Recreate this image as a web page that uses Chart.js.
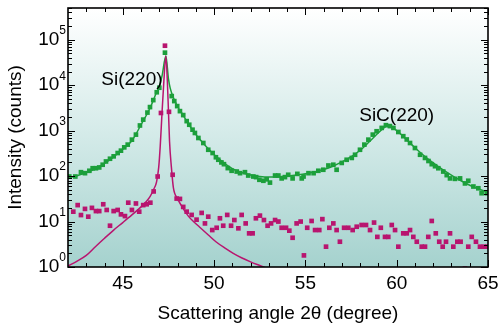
<!DOCTYPE html>
<html>
<head>
<meta charset="utf-8">
<script src="https://cdn.jsdelivr.net/npm/chart.js@4/dist/chart.umd.min.js"></script>
<style>
  html, body { margin: 0; padding: 0; background: #fff; }
  #xrd { display: block; }
</style>
</head>
<body>
<canvas id="xrd" width="502" height="331"></canvas>
<script>
// measured data, green (sample with SiC layer)
const greenAngle = [42.07, 42.40, 42.71, 42.93, 43.17, 43.35, 43.53, 43.71, 43.90, 44.08, 44.30, 44.50, 44.72, 44.90, 45.08, 45.27, 45.50, 45.72, 45.94, 46.12, 46.35, 46.49, 46.67, 46.86, 47.00, 47.31,
  47.68, 47.82, 47.98, 48.13, 48.31, 48.50, 48.64, 48.82, 48.95, 49.14, 49.41, 49.68, 49.92, 50.10, 50.23, 50.40, 50.54, 50.75, 50.96, 51.24, 51.42, 51.69, 51.87, 52.15, 52.30, 52.48, 52.70, 52.88, 53.06,
  53.34, 53.52, 53.70, 53.88, 54.06, 54.30, 54.56, 54.80, 54.90, 55.17, 55.45, 55.71, 55.98, 56.26, 56.53, 56.71, 56.99, 57.26, 57.54, 57.72, 57.99, 58.23, 58.45, 58.69, 58.90, 59.18, 59.41, 59.63,
  59.82, 60.09, 60.36, 60.55, 60.73, 61.00, 61.28, 61.55, 61.74, 61.92, 62.10, 62.28, 62.55, 62.74, 62.92, 63.19, 63.47, 63.74, 63.92, 64.20, 64.47, 64.65, 64.93];
const greenCounts = [98, 98, 122, 116, 131, 149, 149, 155, 178, 210, 241, 272, 322, 363, 429, 493, 634, 818, 1300, 1750, 2500, 3300, 4700, 7000, 8800, 52000,
  5760, 4470, 3470, 2690, 2200, 1620, 1350, 1050, 890, 690, 535, 380, 322, 260, 229, 200, 183, 150, 131, 126, 116, 122, 103, 98, 95, 83, 79, 85, 72,
  103, 103, 89, 95, 107, 89, 112, 89, 98, 116, 116, 131, 138, 171, 178, 138, 195, 229, 251, 295, 380, 493, 634, 818, 970, 1150, 1320, 1260,
  1150, 935, 755, 640, 535, 415, 295, 251, 215, 183, 165, 149, 126, 105, 89, 87, 89, 69, 79, 59, 54, 42, 42];

// fitted curve, green
const greenFitAngle = [42, 42.5, 43, 43.5, 44, 44.5, 45, 45.5, 46, 46.5, 46.85, 47.0, 47.15, 47.36, 47.5, 47.6, 47.8, 48.0, 48.3, 48.6, 49.0, 49.5, 50, 50.5, 51, 51.5, 52, 52.5, 53, 53.5,
  54, 54.5, 55, 55.5, 56, 56.5, 57, 57.5, 58, 58.5, 59, 59.3, 59.5, 59.7, 60, 60.5, 61, 61.5, 62, 62.5, 63, 63.5, 64, 64.5, 65];
const greenFitCounts = [90, 102, 120, 145, 190, 265, 390, 600, 1350, 3200, 7000, 9500, 16000, 44000, 14000, 8500, 5000, 3400, 2200, 1400, 820, 480, 300, 200, 145, 120, 106, 98, 95, 96,
  100, 106, 113, 124, 140, 165, 205, 265, 370, 570, 900, 1150, 1280, 1220, 1000, 660, 420, 280, 195, 140, 105, 80, 63, 52, 44];

// measured data, magenta (reference Si)
const magAngle = [42.29, 42.53, 42.71, 42.93, 43.11, 43.31, 43.53, 43.71, 43.93, 44.12, 44.30, 44.50, 44.72, 44.90, 45.12, 45.30, 45.50, 45.72, 45.90, 46.12, 46.31, 46.51, 46.69, 46.91, 47.09, 47.31, 47.53,
  47.73, 47.95, 48.13, 48.31, 48.50, 48.77, 49.04, 49.32, 49.50, 49.68, 49.90, 50.14, 50.32, 50.50, 50.72, 50.93, 51.11, 51.33, 51.51, 51.73, 51.92, 52.11, 52.29, 52.51, 52.73, 52.93, 53.12, 53.34,
  53.52, 53.70, 53.94, 54.12, 54.30, 54.52, 54.74, 54.92, 55.10, 55.34, 55.53, 55.76, 55.93, 56.13, 56.31, 56.53, 56.71, 56.89, 57.12, 57.35, 57.59, 57.81, 58.08, 58.32, 58.54, 58.76, 58.94, 59.13,
  59.36, 59.54, 59.73, 59.91, 60.09, 60.36, 60.55, 60.73, 60.91, 61.10, 61.37, 61.55, 61.73, 61.92, 62.14, 62.33, 62.52, 62.70, 62.92, 63.10, 63.32, 63.50, 63.74, 63.92, 64.11, 64.34, 64.56, 64.78, 64.96];
const magCounts = [16.5, 23, 13.9, 19, 12.8, 20, 17, 17, 24, 18, 8.1, 17, 18, 14.4, 13.2, 26, 18, 25, 16.5, 23, 24, 26, 46, 98, 2450, 74000, 2600,
  107, 32, 31.5, 21, 16.5, 14, 11, 15.5, 9.1, 12.8, 6.5, 7.3, 11.8, 8.1, 14, 8.1, 10.8, 7.1, 14, 9.1, 5.5, 5.5, 11.8, 13.5, 10.8, 8.1, 9.1, 10.8,
  10, 7.3, 7.3, 6.3, 4.4, 9.1, 10, 1.8, 7.3, 10.3, 6.5, 6.5, 11.3, 2.8, 7.3, 9.1, 6.5, 3.6, 7.3, 7.3, 6.5, 7.7, 8.4, 8.4, 6.5, 9.5, 4.6, 7.3,
  4.6, 4.6, 8.4, 6.5, 2.8, 5.5, 5.5, 6.5, 4.6, 3.6, 2.8, 2.8, 4.6, 10.3, 5.5, 3.6, 2.8, 3.6, 5.5, 2.8, 3.6, 3.6, 0.92, 2.8, 4.6, 3.6, 2.8, 2.8, 2.8];

// fitted curve, magenta
const magFitAngle = [42, 42.5, 43, 43.5, 44, 44.5, 45, 45.5, 46, 46.3, 46.5, 46.7, 46.85, 46.97, 47.05, 47.15, 47.25, 47.36, 47.44, 47.5, 47.56, 47.66, 47.77, 48.0, 48.3, 48.6, 48.9, 49.2, 49.7, 50.1, 50.6, 51.05, 51.5, 52, 52.5, 53];
const magFitCounts = [1.05, 1.35, 1.8, 2.8, 4.3, 6.5, 9.5, 14, 21, 28, 36, 52, 75, 160, 450, 2500, 12400, 44000, 12400, 2800, 585, 160, 56, 32, 19.5, 13, 9.8, 7.6, 5, 3.6, 2.6, 2.0, 1.6, 1.3, 1.08, 0.9];

// axis ticks
const xMajorTicks = [45, 50, 55, 60, 65];
const xTickLabels = ['45', '50', '55', '60', '65'];
const xMinorTicks = [43, 44, 46, 47, 48, 49, 51, 52, 53, 54, 56, 57, 58, 59, 61, 62, 63, 64];
const yMajorTicks = [1, 10, 100, 1000, 10000, 100000];
const yTickExponents = ['0', '1', '2', '3', '4', '5'];
const yMinorTicks = [];
for (const d of [1, 10, 100, 1000, 10000, 100000]) {
  for (let m = 2; m <= 9; m++) if (d * m <= 500000) yMinorTicks.push(d * m);
}

// peak labels
const peakLabels = ['Si(220)', 'SiC(220)'];
const peakLabelAngle = [45.5, 60.0];
const peakLabelCounts = [13000, 2100];

const GREEN = '#1c9f3b';
const MAGENTA = '#b8156f';
const FONT = "'Liberation Sans', Arial, sans-serif";

function pts(xs, ys) {
  return xs.map((v, i) => ({ x: v, y: ys[i] }));
}

const plotDecor = {
  id: 'plotDecor',
  beforeDraw(chart) {
    const { ctx, chartArea: a } = chart;
    const g = ctx.createLinearGradient(0, a.top, 0, a.bottom);
    g.addColorStop(0, '#ffffff');
    g.addColorStop(0.5, '#d3eae8');
    g.addColorStop(1, '#a5d2ce');
    ctx.save();
    ctx.fillStyle = g;
    ctx.fillRect(a.left, a.top, a.right - a.left, a.bottom - a.top);
    ctx.restore();
  },
  afterDraw(chart) {
    const { ctx, chartArea: a, scales } = chart;
    const x = scales.x, y = scales.y;
    ctx.save();
    ctx.strokeStyle = '#000';
    ctx.lineWidth = 1;
    const tick = (x1, y1, x2, y2) => {
      ctx.beginPath(); ctx.moveTo(x1, y1); ctx.lineTo(x2, y2); ctx.stroke();
    };
    xMajorTicks.forEach(v => {
      const p = Math.round(x.getPixelForValue(v)) + 0.5;
      tick(p, a.bottom, p, a.bottom - 7); tick(p, a.top, p, a.top + 7);
    });
    xMinorTicks.forEach(v => {
      const p = Math.round(x.getPixelForValue(v)) + 0.5;
      tick(p, a.bottom, p, a.bottom - 4); tick(p, a.top, p, a.top + 4);
    });
    yMajorTicks.forEach(v => {
      const p = Math.round(y.getPixelForValue(v)) + 0.5;
      tick(a.left, p, a.left + 7, p); tick(a.right, p, a.right - 7, p);
    });
    yMinorTicks.forEach(v => {
      const p = Math.round(y.getPixelForValue(v)) + 0.5;
      tick(a.left, p, a.left + 4, p); tick(a.right, p, a.right - 4, p);
    });
    ctx.lineWidth = 1.6;
    ctx.strokeRect(a.left, a.top, a.right - a.left, a.bottom - a.top);

    ctx.fillStyle = '#000';
    ctx.font = '19px ' + FONT;
    ctx.textAlign = 'center';
    ctx.textBaseline = 'middle';
    xMajorTicks.forEach((v, i) => {
      ctx.fillText(xTickLabels[i], x.getPixelForValue(v), a.bottom + 17);
    });
    yMajorTicks.forEach((v, i) => {
      const p = y.getPixelForValue(v);
      ctx.font = '12px ' + FONT;
      ctx.textAlign = 'right';
      const ew = ctx.measureText(yTickExponents[i]).width;
      ctx.fillText(yTickExponents[i], a.left - 2, p - 9);
      ctx.font = '19px ' + FONT;
      ctx.fillText('10', a.left - 2 - ew, p);
    });
    ctx.textAlign = 'center';
    peakLabels.forEach((t, i) => {
      ctx.fillText(t, x.getPixelForValue(peakLabelAngle[i]), y.getPixelForValue(peakLabelCounts[i]));
    });
    ctx.restore();
  }
};

new Chart(document.getElementById('xrd'), {
  type: 'scatter',
  data: {
    datasets: [
      {
        label: 'Si fit',
        data: pts(magFitAngle, magFitCounts),
        showLine: true,
        borderColor: MAGENTA,
        borderWidth: 1.5,
        pointRadius: 0,
        cubicInterpolationMode: 'monotone'
      },
      {
        label: 'SiC fit',
        data: pts(greenFitAngle, greenFitCounts),
        showLine: true,
        borderColor: GREEN,
        borderWidth: 1.5,
        pointRadius: 0,
        cubicInterpolationMode: 'monotone'
      },
      {
        label: 'Si',
        data: pts(magAngle, magCounts),
        backgroundColor: MAGENTA,
        borderWidth: 0,
        pointStyle: 'rect',
        pointRadius: 3.3
      },
      {
        label: 'SiC',
        data: pts(greenAngle, greenCounts),
        backgroundColor: GREEN,
        borderWidth: 0,
        pointStyle: 'rect',
        pointRadius: 3.3
      }
    ]
  },
  options: {
    responsive: false,
    animation: false,
    devicePixelRatio: 1,
    layout: { padding: { top: 8, right: 14, left: 0, bottom: 0 } },
    plugins: { legend: { display: false }, tooltip: { enabled: false } },
    scales: {
      x: {
        type: 'linear',
        min: 42,
        max: 65,
        grid: { display: false },
        border: { display: false },
        ticks: { display: false },
        afterFit: s => { s.height = 64; },
        title: {
          display: true,
          text: 'Scattering angle 2θ (degree)',
          color: '#000',
          font: { family: FONT, size: 19 },
          padding: { top: 0, bottom: 6 }
        }
      },
      y: {
        type: 'logarithmic',
        min: 1,
        max: 500000,
        grid: { display: false },
        border: { display: false },
        ticks: { display: false },
        afterFit: s => { s.width = 68; },
        title: {
          display: true,
          text: 'Intensity (counts)',
          color: '#000',
          font: { family: FONT, size: 19 },
          padding: { top: 4, bottom: 0 }
        }
      }
    }
  },
  plugins: [plotDecor]
});
</script>
</body>
</html>
